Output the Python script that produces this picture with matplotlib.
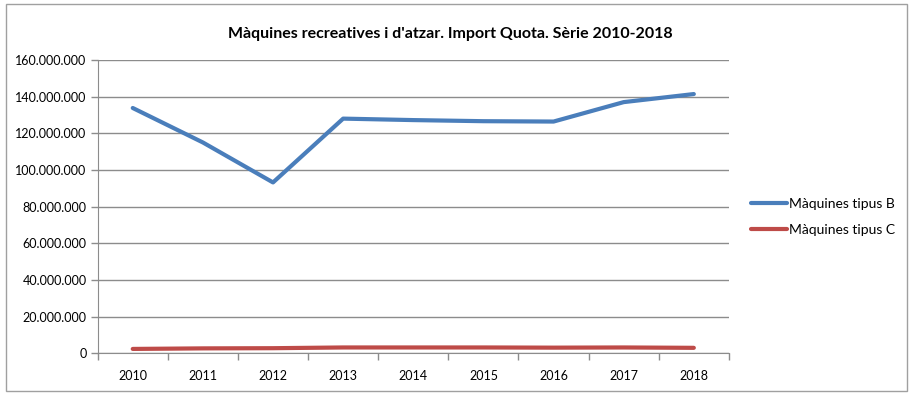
import numpy as np
import matplotlib
matplotlib.use('Agg')
import matplotlib.pyplot as plt
from matplotlib.patches import Rectangle
from matplotlib.ticker import FuncFormatter, FixedLocator

# Data
years = ['2010', '2011', '2012', '2013', '2014', '2015', '2016', '2017', '2018']
tipus_b = [133.8e6, 115.0e6, 93.2e6, 128.0e6, 127.2e6, 126.6e6, 126.4e6, 137.0e6, 141.4e6]
tipus_c = [2.4e6, 2.7e6, 2.8e6, 3.2e6, 3.2e6, 3.2e6, 3.1e6, 3.2e6, 3.0e6]

plt.rcParams['font.family'] = ['Lato', 'DejaVu Sans']

fig = plt.figure(figsize=(9.18, 3.97), dpi=100)
ax = fig.add_axes([0.1064, 0.110, 0.6876, 0.739])

x = np.arange(len(years))
ax.plot(x, tipus_b, color='#4A7EBB', lw=3, solid_capstyle='round', label='Màquines tipus B')
ax.plot(x, tipus_c, color='#BE4B48', lw=3, solid_capstyle='round', label='Màquines tipus C')

ax.set_xlim(-0.5, len(years) - 0.5)
ax.set_ylim(0, 160e6)
ax.set_yticks(np.arange(0, 160e6 + 1, 20e6))
ax.yaxis.set_major_formatter(FuncFormatter(lambda v, p: f'{int(v):,}'.replace(',', '.')))
ax.grid(axis='y', color='#8c8c8c', lw=1)
ax.set_axisbelow(True)

# ticks between categories, labels at centers
ax.xaxis.set_major_locator(FixedLocator(np.arange(-0.5, len(years), 1.0)))
ax.xaxis.set_minor_locator(FixedLocator(x))
ax.set_xticklabels([])
ax.set_xticks(x, years, minor=True)
ax.tick_params(axis='x', which='major', length=5, color='#8c8c8c', width=1)
ax.tick_params(axis='x', which='minor', length=0, pad=12, labelsize=9)
ax.tick_params(axis='y', length=5, color='#8c8c8c', width=1, labelsize=9, pad=3)

for s in ['top', 'right']:
    ax.spines[s].set_visible(False)
for s in ['left', 'bottom']:
    ax.spines[s].set_color('#8c8c8c')

fig.text(0.491, 0.915, "Màquines recreatives i d'atzar. Import Quota. Sèrie 2010-2018",
         fontsize=11.5, fontweight='bold', ha='center', va='center')

ax.legend(loc='center left', bbox_to_anchor=(1.015, 0.465), frameon=False,
          fontsize=10, handlelength=2.6, labelspacing=1.0, handletextpad=0.15)

fig.patches.append(Rectangle((0.006, 0.015), 0.982, 0.975, transform=fig.transFigure,
                             fill=False, edgecolor='#a0a0a0', lw=1))

fig.savefig('out.png', dpi=100)
